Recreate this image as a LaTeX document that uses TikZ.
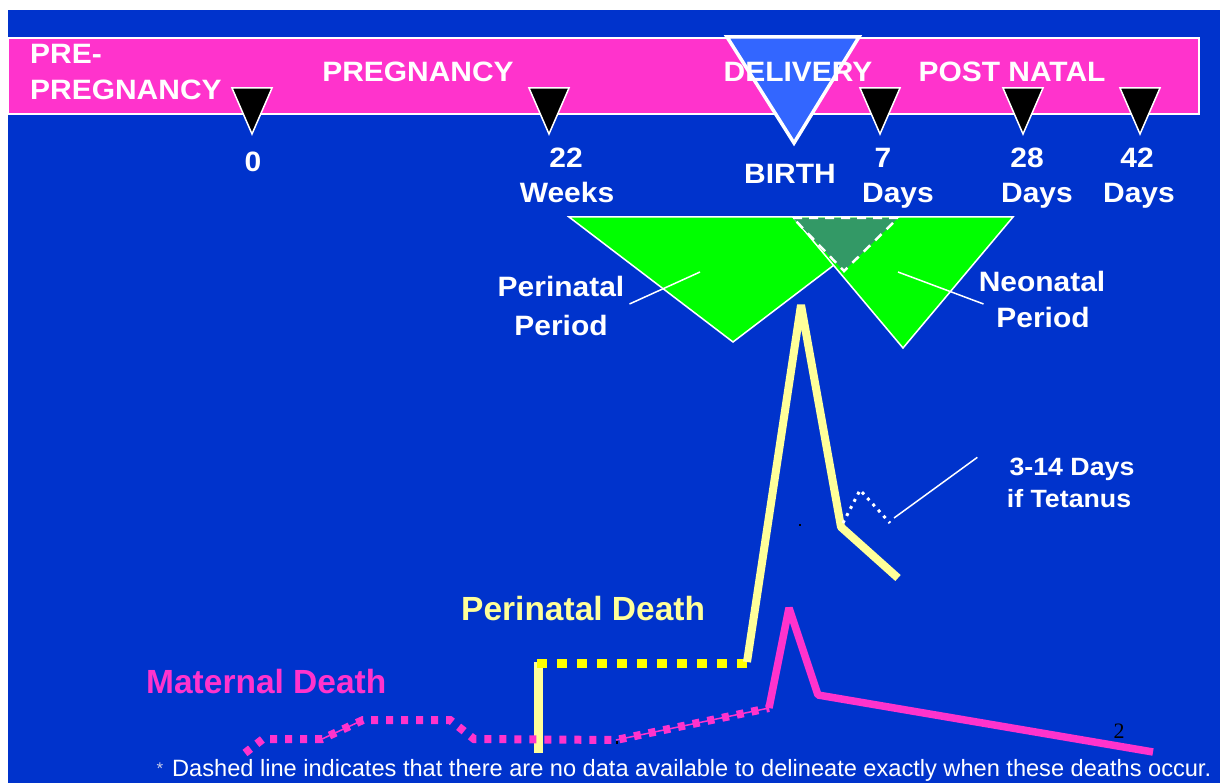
\documentclass[tikz,border=0pt]{standalone}
\usepackage{fontspec}
\setmainfont{Liberation Sans}
\newfontfamily\wideSans[FakeStretch=1.07]{Liberation Sans}
\newfontfamily\pageSerif{Liberation Serif}
\usepackage{xcolor}
\definecolor{cBack}{HTML}{0033CC}
\definecolor{cPink}{HTML}{FF33CC}
\definecolor{cGreen}{HTML}{00FF00}
\definecolor{cDeep}{HTML}{339966}
\definecolor{cSky}{HTML}{3366FF}
\definecolor{cPale}{HTML}{FFFF99}
\definecolor{cYel}{HTML}{FFFF00}
\definecolor{cStar}{HTML}{C8CCE8}
\usepackage{tikz}
\usetikzlibrary{positioning,calc}
\tikzset{
  head-text/.style={text=white,inner sep=0pt,anchor=base,
    font=\wideSans\bfseries\fontsize{28}{30}\selectfont},
  note-text/.style={text=white,inner sep=0pt,anchor=base,
    font=\wideSans\bfseries\fontsize{25}{28}\selectfont},
  death-text/.style={inner sep=0pt,anchor=base west,
    font=\bfseries\fontsize{33.5}{36}\selectfont},
  foot-text/.style={text=white,inner sep=0pt,anchor=base west,
    font=\fontsize{23.6}{25}\selectfont},
  tick-mark/.style={fill=black,draw=white,line width=1.5pt},
  period-tri/.style={fill=cGreen,draw=white,line width=1.5pt},
  overlap-tri/.style={fill=cDeep,draw=white,line width=2.5pt,
    dash pattern=on 9pt off 7pt},
  leader/.style={draw=white,line width=1.5pt},
  peri-solid/.style={draw=cPale,line width=8pt,line join=bevel},
  peri-dash/.style={draw=cYel,line width=9pt,dash pattern=on 10pt off 10pt},
  mat-solid/.style={draw=cPink,line width=7.5pt,line join=bevel},
  mat-dash/.style={draw=cPink,line width=8pt,dash pattern=on 7pt off 8pt},
  mat-thin/.style={draw=cPink,line width=1.5pt},
  tet-dot/.style={draw=white,line width=3pt,dash pattern=on 3pt off 5pt},
}

\begin{document}
\begin{tikzpicture}[x=1pt,y=-1pt]
  \useasboundingbox (0,0) rectangle (1220,783);
  \fill[white] (0,0) rectangle (1220,783);
  \fill[cBack] (8,10) rectangle (1220,783);

  % time band
  \filldraw[fill=cPink,draw=white,line width=2pt] (8,38) rectangle (1199,114);
  \filldraw[fill=cSky,draw=white,line width=3.5pt]
    (727,37) -- (859,37) -- (794,143) -- cycle;
  \foreach \x in {252,549,880,1023,1140}
    \filldraw[tick-mark] (\x-20,88) -- (\x+20,88) -- (\x,134) -- cycle;

  \node[head-text,anchor=base west] (pre1) at (30,64) {PRE-};
  \node[head-text,anchor=base west] (pre2) at (30,100) {PREGNANCY};
  \node[head-text] (preg) at (418,82) {PREGNANCY};
  \node[head-text] (deliv) at (798,82) {DELIVERY};
  \node[head-text] (post) at (1012,82) {POST NATAL};

  \foreach \x/\y/\n in {253/172/0,566/168/22,883/168/7,1027/168/28,1137/168/42}
    \node[head-text] (num\n) at (\x,\y) {\n};
  \node[head-text] (weeks) at (567,203) {Weeks};
  \node[head-text] (birth) at (790,184) {BIRTH};
  \foreach \x/\n in {898/7,1037/28,1139/42}
    \node[head-text] (days\n) at (\x,203) {Days};

  % periods
  \filldraw[period-tri] (569,217) -- (897,217) -- (733,342) -- cycle;
  \filldraw[period-tri] (793,217) -- (1013,217) -- (903,348) -- cycle;
  \filldraw[overlap-tri] (793,218) -- (898,218) -- (844,271) -- cycle;

  \node[head-text] (peri1) at (561,297) {Perinatal};
  \node[head-text] (peri2) at (561,335) {Period};
  \node[head-text] (neo1) at (1042,292) {Neonatal};
  \node[head-text] (neo2) at (1043,327) {Period};
  \coordinate (periTip) at (700,272);
  \coordinate (neoTip) at (898,272);
  \draw[leader] ([shift={(5,7)}]peri1.base east) -- (periTip);
  \draw[leader] ([shift={(5,12)}]neo1.base west) -- (neoTip);

  % perinatal death curve
  \draw[peri-solid,line width=9pt] (538,753) -- (538,662);
  \draw[peri-dash] (537,663) -- (747,663);
  \draw[peri-solid] (747,662) -- (801,305) -- (841,527) -- (898,578);
  \draw[tet-dot] (843,523) -- (860,490) -- (890,523);

  \node[note-text] (tet1) at (1072,475) {3-14 Days};
  \node[note-text] (tet2) at (1069,507) {if Tetanus};
  \coordinate (tetTip) at (894,518);
  \draw[leader] ([shift={(-32,0)}]tet1.north west) -- (tetTip);

  % maternal death curve
  \draw[mat-thin] (322,739) -- (363,720);
  \draw[mat-thin] (616,740) -- (769,708);
  \draw[mat-dash] (245,753) -- (263,739) -- (322,739) -- (363,720) -- (450,720)
    -- (474,739) -- (616,740) -- (769,708);
  \draw[mat-solid] (769,708) -- (789,608) -- (818,695) -- (1153,752);

  \node[death-text,text=cPale] (periDeath) at (461,620) {Perinatal Death};
  \node[death-text,text=cPink] (matDeath) at (146,693) {Maternal Death};

  \fill[black] (799,524) rectangle (801,526);
  \fill[black] (616,741) rectangle (618,744);
  \node[inner sep=0pt,anchor=base,font=\pageSerif\fontsize{22}{24}\selectfont]
    (pageNo) at (1119,738) {2};

  \node[inner sep=0pt,anchor=base,text=cStar,font=\fontsize{17}{18}\selectfont]
    (star) at (160,774) {*};
  \node[foot-text] (foot) at (172,776)
    {Dashed line indicates that there are no data available to delineate exactly when these deaths occur.};
\end{tikzpicture}
\end{document}
